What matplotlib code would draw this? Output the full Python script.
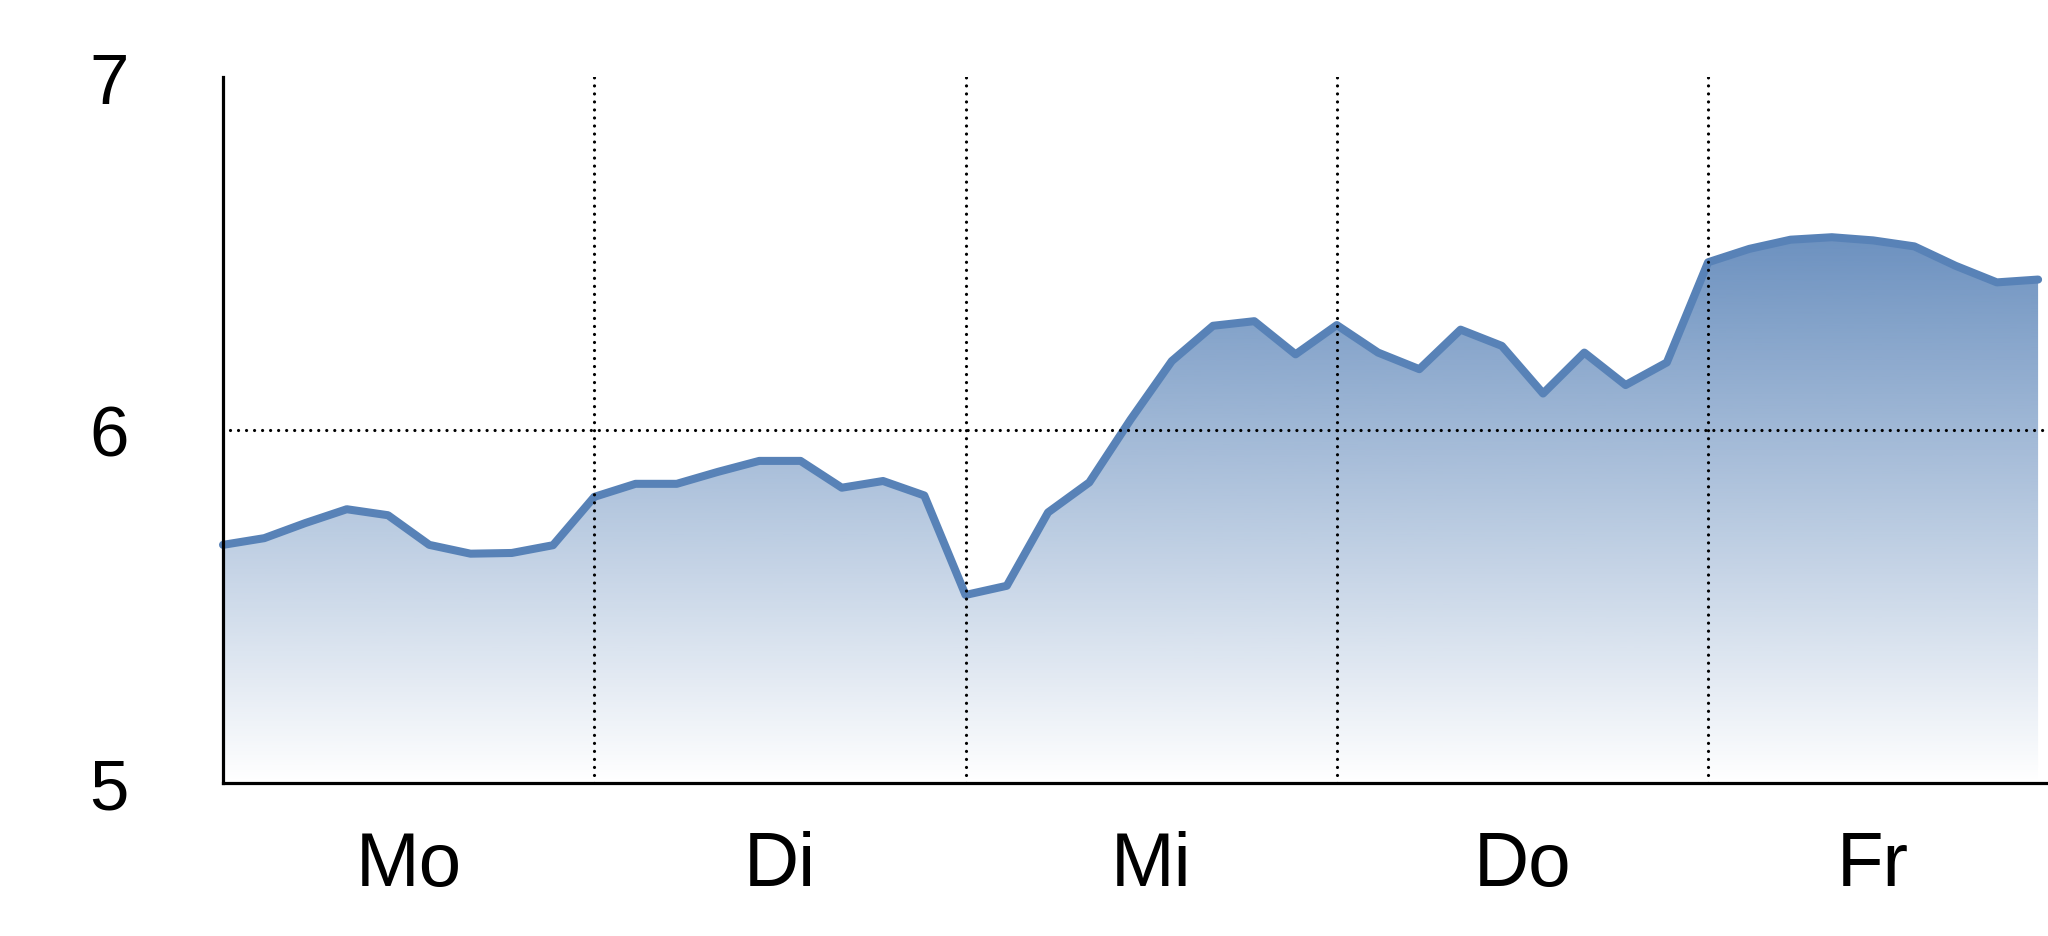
import numpy as np
import matplotlib.pyplot as plt
from matplotlib.colors import to_rgb

plt.rcParams['font.family'] = ['Liberation Sans Narrow', 'Liberation Sans', 'DejaVu Sans']

days = ['Mo', 'Di', 'Mi', 'Do', 'Fr']
day_bounds = [0, 9, 18, 27, 36, 44]
kurs = [5.675, 5.694, 5.737, 5.776, 5.759, 5.675, 5.650, 5.652, 5.674,
        5.811, 5.848, 5.848, 5.882, 5.913, 5.913, 5.837, 5.856, 5.815,
        5.533, 5.559, 5.767, 5.852, 6.030, 6.196, 6.296, 6.309, 6.215, 6.298,
        6.220, 6.173, 6.285, 6.239, 6.104, 6.220, 6.128, 6.192,
        6.476, 6.514, 6.540, 6.547, 6.538, 6.521, 6.466, 6.419, 6.427]
y_ticks = [5, 6, 7]

line_col = '#5882b7'
x = np.arange(len(kurs))
y = np.array(kurs)

fig = plt.figure(figsize=(20.48, 9.37), dpi=100)
ax = fig.add_axes([223 / 2048, 153 / 937, 1 - 223 / 2048, (784 - 78.4) / 937])

# gradient fill under the curve
poly = ax.fill_between(x, 5, y, color='none', lw=0)
rgba = np.zeros((256, 1, 4))
rgba[..., :3] = to_rgb(line_col)
rgba[:, 0, 3] = np.linspace(0, 0.88, 256)
top = y.max()
im = ax.imshow(rgba, extent=[0, x[-1], 5, top], origin='lower', aspect='auto', zorder=1)
im.set_clip_path(poly.get_paths()[0], transform=ax.transData)

ax.plot(x, y, color=line_col, lw=5.8, solid_capstyle='round', zorder=2, clip_on=False)

# dotted grid, round dots
dots = dict(color='black', lw=2.3, linestyle=(0, (0.01, 2.5)), dash_capstyle='round', zorder=3)
for b in day_bounds[1:-1]:
    ax.axvline(b, **dots)
ax.axhline(6, xmin=0.004, **dots)

ax.set_xlim(0, 44.24)
ax.set_ylim(5, 7)

centers = [(day_bounds[i] + day_bounds[i + 1]) / 2 for i in range(len(days))]
ax.set_xticks(centers)
ax.set_xticklabels(days, fontsize=55)
ax.set_yticks(y_ticks)
ax.set_yticklabels([str(t) for t in y_ticks], fontsize=51)
ax.tick_params(axis='x', length=0, pad=34)
ax.tick_params(axis='y', length=0, pad=68)

for s in ['top', 'right']:
    ax.spines[s].set_visible(False)
for s in ['left', 'bottom']:
    ax.spines[s].set_linewidth(2.3)
    ax.spines[s].set_zorder(4)

fig.savefig('out.png', dpi=100)
